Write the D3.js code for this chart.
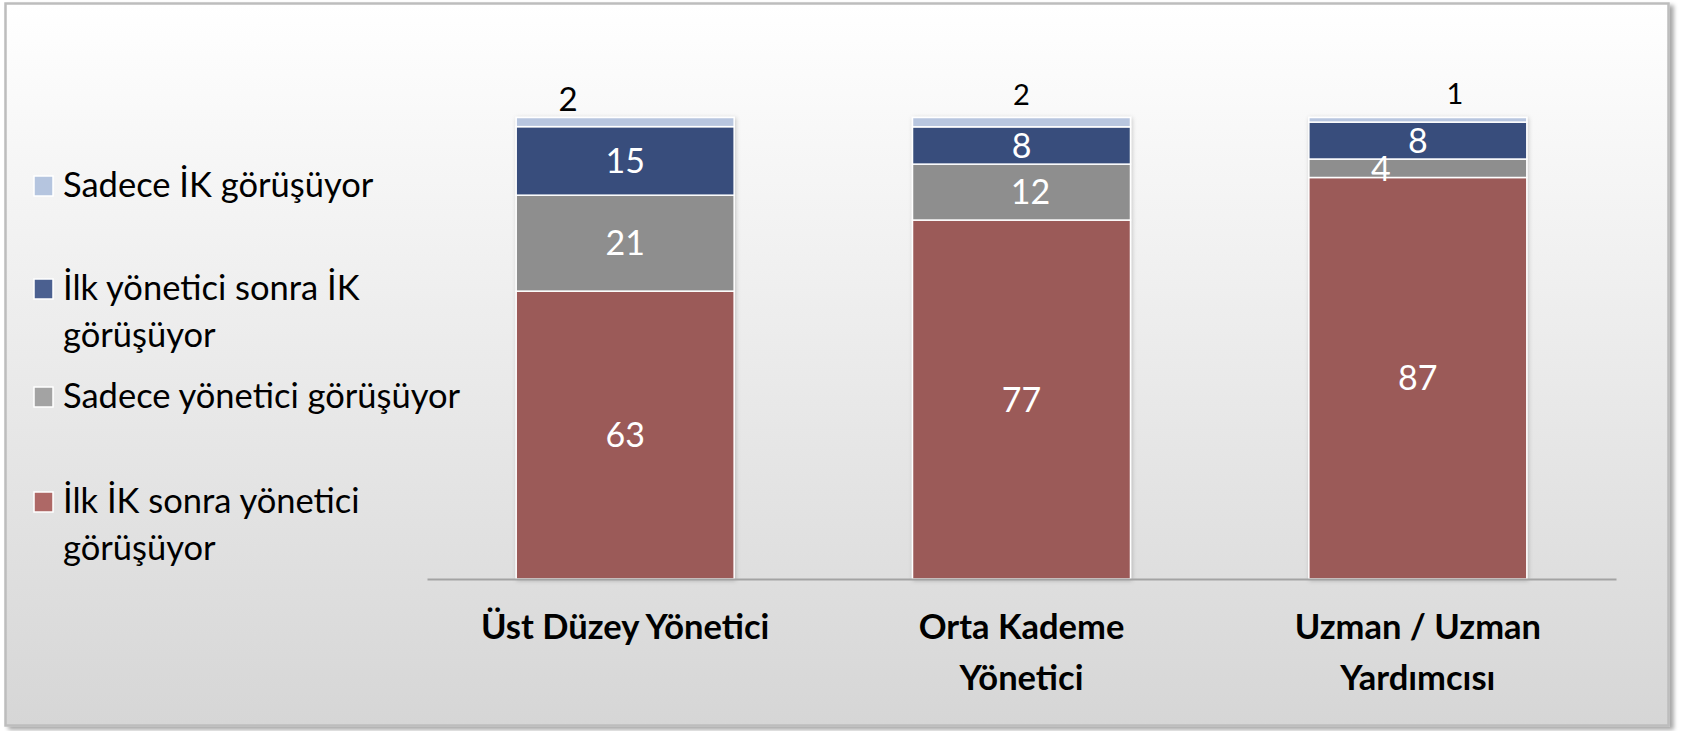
<!DOCTYPE html>
<html>
<head>
<meta charset="utf-8">
<script src="https://cdn.jsdelivr.net/npm/d3@7"></script>
<style>
	body { margin: 0; background: #ffffff; }
	svg text { font-family: Lato, "Open Sans", sans-serif; }
</style>
</head>
<body>
<div id="___stack_chart"></div>
<script>
// kategoriler ve seriler (alttan üste)
const categories = ["Üst Düzey Yönetici", "Orta Kademe Yönetici", "Uzman / Uzman Yardımcısı"];
const categoryLines = [["Üst Düzey Yönetici"], ["Orta Kademe", "Yönetici"], ["Uzman / Uzman", "Yardımcısı"]];
const seriesNames = ["İlk İK sonra yönetici görüşüyor", "Sadece yönetici görüşüyor", "İlk yönetici sonra İK görüşüyor", "Sadece İK görüşüyor"];
const ilkIK = [63, 77, 87];
const sadeceYonetici = [21, 12, 4];
const ilkYonetici = [15, 8, 8];
const sadeceIK = [2, 2, 1];

const legendLines = [
	["Sadece İK görüşüyor"],
	["İlk yönetici sonra İK", "görüşüyor"],
	["Sadece yönetici görüşüyor"],
	["İlk İK sonra yönetici", "görüşüyor"]
];

var rows = categories.map(function (c, i) {
	return {
		kategori: c,
		[seriesNames[0]]: ilkIK[i],
		[seriesNames[1]]: sadeceYonetici[i],
		[seriesNames[2]]: ilkYonetici[i],
		[seriesNames[3]]: sadeceIK[i]
	};
});

var W = 1681, H = 731;
var svg = d3.select("#___stack_chart").append("svg")
	.attr("width", W).attr("height", H);

var defs = svg.append("defs");
var grad = defs.append("linearGradient").attr("id", "bg").attr("x1", 0).attr("y1", 0).attr("x2", 0).attr("y2", 1);
grad.append("stop").attr("offset", "0%").attr("stop-color", "#ffffff");
grad.append("stop").attr("offset", "100%").attr("stop-color", "#d6d6d6");

var shadow = defs.append("filter").attr("id", "frameShadow").attr("x", "-2%").attr("y", "-2%").attr("width", "106%").attr("height", "106%");
shadow.append("feDropShadow").attr("dx", 4).attr("dy", 3).attr("stdDeviation", 2).attr("flood-color", "#000").attr("flood-opacity", 0.35);

var barShadow = defs.append("filter").attr("id", "barShadow").attr("x", "-10%").attr("y", "-10%").attr("width", "120%").attr("height", "120%");
barShadow.append("feDropShadow").attr("dx", 1).attr("dy", 1).attr("stdDeviation", 2).attr("flood-color", "#000").attr("flood-opacity", 0.2);

// rahmen
svg.append("rect")
	.attr("x", 5.5).attr("y", 3.5)
	.attr("width", 1663).attr("height", 722)
	.attr("fill", "url(#bg)")
	.attr("stroke", "#bdbdbd")
	.attr("stroke-width", 2.5)
	.attr("filter", "url(#frameShadow)");

var x = d3.scaleBand()
	.domain(categories)
	.range([427, 1616])
	.paddingInner(0.45)
	.paddingOuter(0.225);

var y = d3.scaleLinear()
	.domain([0, 1])
	.range([579, 117.5]);

var barColor = d3.scaleOrdinal()
	.domain(seriesNames)
	.range(["#9b5a58", "#8e8e8e", "#374d7b", "#b8c6df"]);

var legendColor = d3.scaleOrdinal()
	.domain(seriesNames)
	.range(["#ae6866", "#a3a3a3", "#4b6090", "#b5c5df"]);

var stacked = d3.stack()
	.keys(seriesNames)
	.offset(d3.stackOffsetExpand)(rows);

var bars = svg.append("g").attr("filter", "url(#barShadow)");
bars.selectAll("g")
	.data(stacked)
	.enter()
	.append("g")
	.attr("fill", function (s) { return barColor(s.key); })
	.selectAll("rect")
	.data(function (s) { return s; })
	.enter()
	.append("rect")
	.attr("x", function (d) { return x(d.data.kategori); })
	.attr("y", function (d) { return y(d[1]); })
	.attr("width", x.bandwidth())
	.attr("height", function (d) { return y(d[0]) - y(d[1]); })
	.attr("stroke", "#ffffff")
	.attr("stroke-width", 1.5);

// x ekseni
var axis = svg.append("g")
	.attr("transform", "translate(0," + y(0) + ")")
	.call(d3.axisBottom(x).tickSize(0).tickFormat(""));
axis.select(".domain").attr("stroke", "#a3a3a3").attr("stroke-width", 2);

axis.selectAll(".tick").each(function (c, i) {
	var t = d3.select(this).append("text")
		.attr("fill", "#000")
		.attr("font-weight", "bold")
		.attr("font-size", 34.5)
		.attr("text-anchor", "middle");
	categoryLines[i].forEach(function (line, j) {
		t.append("tspan").attr("x", 0).attr("y", 60 + j * 50.5).text(line);
	});
});

// etiketler (manuel kaydırmalar)
var labelShift = {
	"Sadece yönetici görüşüyor|Uzman / Uzman Yardımcısı": -37,
	"Sadece yönetici görüşüyor|Orta Kademe Yönetici": 9,
	"Sadece İK görüşüyor|Üst Düzey Yönetici": -57,
	"Sadece İK görüşüyor|Uzman / Uzman Yardımcısı": 37
};

stacked.forEach(function (s, si) {
	var top = si === stacked.length - 1;
	svg.append("g").selectAll("text")
		.data(s)
		.enter()
		.append("text")
		.attr("text-anchor", "middle")
		.attr("fill", top ? "#000" : "#fff")
		.attr("font-size", function (d, i) { return top ? (i === 0 ? 33 : 29) : 34; })
		.attr("x", function (d) {
			var k = s.key + "|" + d.data.kategori;
			return x(d.data.kategori) + x.bandwidth() / 2 + (labelShift[k] || 0);
		})
		.attr("y", function (d, i) {
			if (top) return y(d[1]) - [18, 23, 24][i];
			return (y(d[0]) + y(d[1])) / 2;
		})
		.attr("dy", "0.36em")
		.text(function (d) { return d.data[s.key]; });
});

// lejant
var legendOrder = seriesNames.slice().reverse();
var legendBase = [197, 300, 408, 513];
var legend = svg.append("g");
legendOrder.forEach(function (name, i) {
	legend.append("rect")
		.attr("x", 34).attr("y", legendBase[i] - 21)
		.attr("width", 19).attr("height", 20)
		.attr("fill", legendColor(name))
		.attr("stroke", "#ffffff")
		.attr("stroke-width", 1.5);
	var t = legend.append("text").attr("font-size", 34.5).attr("fill", "#000");
	legendLines[i].forEach(function (line, j) {
		t.append("tspan").attr("x", 63).attr("y", legendBase[i] + j * 46.5).text(line);
	});
});
</script>
</body>
</html>
